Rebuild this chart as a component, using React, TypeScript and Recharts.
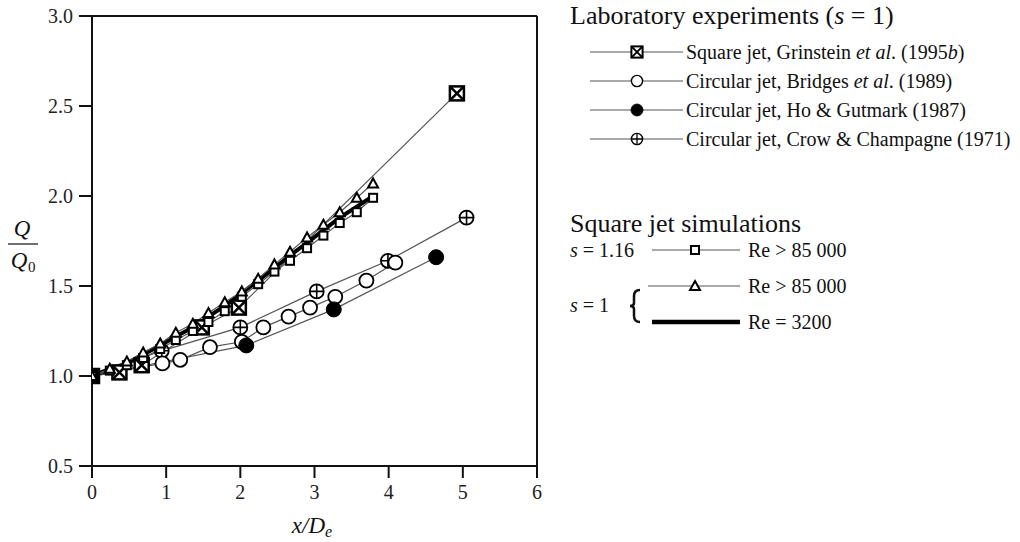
import React from "react";
import { LineChart, Line, XAxis, YAxis, ReferenceLine, Label } from "recharts";

// x/De positions and Q/Q0 values
const grinsteinX = [0, 0.37, 0.67, 1.48, 1.98, 4.92];
const grinsteinQ = [1.0, 1.02, 1.06, 1.27, 1.38, 2.57];
const bridgesX = [0, 0.95, 1.19, 1.59, 2.02, 2.31, 2.65, 2.94, 3.28, 3.7, 4.09];
const bridgesQ = [1.0, 1.07, 1.09, 1.16, 1.19, 1.27, 1.33, 1.38, 1.44, 1.53, 1.63];
const hoX = [0, 2.08, 3.26, 4.64];
const hoQ = [1.0, 1.17, 1.37, 1.66];
const crowX = [0, 0.94, 2.0, 3.03, 3.99, 5.05];
const crowQ = [1.0, 1.14, 1.27, 1.47, 1.64, 1.88];

const simX = [0, 0.24, 0.47, 0.69, 0.92, 1.13, 1.36, 1.57, 1.79, 2.02, 2.24, 2.46, 2.67, 2.9, 3.12, 3.34, 3.57, 3.79];
const sim116Q = [1.0, 1.03, 1.06, 1.1, 1.15, 1.2, 1.25, 1.3, 1.36, 1.44, 1.51, 1.58, 1.64, 1.71, 1.78, 1.85, 1.91, 1.99];
const sim1Q = [1.0, 1.04, 1.08, 1.13, 1.18, 1.24, 1.29, 1.35, 1.41, 1.47, 1.54, 1.62, 1.69, 1.77, 1.84, 1.91, 1.99, 2.07];
const sim3200Q = [1.0, 1.04, 1.07, 1.12, 1.17, 1.22, 1.27, 1.33, 1.39, 1.46, 1.53, 1.6, 1.67, 1.74, 1.81, 1.88, 1.94, 2.0];

const xTicks = [0, 1, 2, 3, 4, 5, 6];
const yTicks = [0.5, 1.0, 1.5, 2.0, 2.5, 3.0];

const zip = (xs: number[], qs: number[]) => xs.map((x, i) => ({ x, q: qs[i] }));

const FONT = '"Liberation Serif", "Times New Roman", Times, "DejaVu Serif", serif';
const THIN = "#555";
const serif = { fontFamily: FONT };

type MarkKind = "sqx" | "open" | "filled" | "plus" | "sq" | "tri";

function Mark({ kind, cx, cy }: { kind: MarkKind; cx: number; cy: number }) {
  if (cx == null || cy == null) return null;
  switch (kind) {
    case "sqx": {
      const h = 7;
      return (
        <g>
          <rect x={cx - h} y={cy - h} width={2 * h} height={2 * h} fill="#fff" stroke="#000" strokeWidth={2.5} />
          <path d={`M${cx - h} ${cy - h}L${cx + h} ${cy + h}M${cx + h} ${cy - h}L${cx - h} ${cy + h}`} stroke="#000" strokeWidth={2.5} />
        </g>
      );
    }
    case "open":
      return <circle cx={cx} cy={cy} r={7} fill="#fff" stroke="#000" strokeWidth={1.8} />;
    case "filled":
      return <circle cx={cx} cy={cy} r={7.5} fill="#000" stroke="#000" />;
    case "plus":
      return (
        <g>
          <circle cx={cx} cy={cy} r={7} fill="#fff" stroke="#000" strokeWidth={1.8} />
          <path d={`M${cx - 7} ${cy}H${cx + 7}M${cx} ${cy - 7}V${cy + 7}`} stroke="#000" strokeWidth={1.6} />
        </g>
      );
    case "sq":
      return <rect x={cx - 4} y={cy - 4} width={8} height={8} fill="#fff" stroke="#000" strokeWidth={2} />;
    case "tri":
      return <path d={`M${cx} ${cy - 5}L${cx + 5} ${cy + 4}L${cx - 5} ${cy + 4}Z`} fill="#fff" stroke="#000" strokeWidth={2} />;
  }
}

const dotOf = (kind: MarkKind) => (p: any) => <Mark key={`${kind}-${p.index}`} kind={kind} cx={p.cx} cy={p.cy} />;

function YTitle() {
  return (
    <g style={serif} fontStyle="italic" fontSize={23} fill="#111">
      <text x={22} y={236} textAnchor="middle" style={serif}>Q</text>
      <line x1={8} x2={38} y1={244} y2={244} stroke="#111" strokeWidth={1.2} />
      <text x={19} y={268} textAnchor="middle" style={serif}>Q</text>
      <text x={28} y={272} fontStyle="normal" fontSize={15} style={serif}>0</text>
    </g>
  );
}

function XTitle() {
  return (
    <text x={312} y={533} textAnchor="middle" style={serif} fontStyle="italic" fontSize={23} fill="#111">
      x/D<tspan fontSize={16} dy={4}>e</tspan>
    </text>
  );
}

function SerifTick(props: any) {
  const { x, y, payload, textAnchor, verticalAnchor, fmt } = props;
  const dy = verticalAnchor === "start" ? 14 : 7;
  return (
    <text x={x} y={y} dy={dy} textAnchor={textAnchor} fontSize={20} fill="#222" style={serif}>
      {fmt ? fmt(payload.value) : payload.value}
    </text>
  );
}

const labItems: { kind: MarkKind; parts: [string, boolean][] }[] = [
  { kind: "sqx", parts: [["Square jet, Grinstein ", false], ["et al", true], [". (1995", false], ["b", true], [")", false]] },
  { kind: "open", parts: [["Circular jet, Bridges ", false], ["et al", true], [". (1989)", false]] },
  { kind: "filled", parts: [["Circular jet, Ho & Gutmark (1987)", false]] },
  { kind: "plus", parts: [["Circular jet, Crow & Champagne (1971)", false]] },
];

function LegendBlock() {
  const rows = [52, 81, 110, 139];
  return (
    <svg width={1020} height={542} style={{ position: "absolute", left: 0, top: 0, pointerEvents: "none", ...serif }}>
      <g fill="#111" style={serif}>
        <text x={570} y={24} fontSize={26} style={serif}>
          Laboratory experiments (<tspan fontStyle="italic">s</tspan> = 1)
        </text>
        {labItems.map((it, i) => (
          <g key={i}>
            <line x1={590} x2={683} y1={rows[i]} y2={rows[i]} stroke={THIN} strokeWidth={1.2} />
            <g transform={`translate(${637},${rows[i]}) scale(0.8) translate(${-637},${-rows[i]})`}>
              <Mark kind={it.kind} cx={637} cy={rows[i]} />
            </g>
            <text x={686} y={rows[i] + 7} fontSize={20} style={serif}>
              {it.parts.map(([t, ital], j) => (
                <tspan key={j} fontStyle={ital ? "italic" : "normal"}>{t}</tspan>
              ))}
            </text>
          </g>
        ))}
        <text x={570} y={232} fontSize={26} style={serif}>Square jet simulations</text>
        <text x={570} y={257} fontSize={20} style={serif}>
          <tspan fontStyle="italic">s</tspan> = 1.16
        </text>
        <line x1={652} x2={740} y1={250} y2={250} stroke={THIN} strokeWidth={1.2} />
        <Mark kind="sq" cx={695} cy={250} />
        <text x={748} y={257} fontSize={20} style={serif}>Re &gt; 85 000</text>
        <line x1={648} x2={740} y1={286} y2={286} stroke={THIN} strokeWidth={1.2} />
        <Mark kind="tri" cx={695} cy={286} />
        <text x={748} y={293} fontSize={20} style={serif}>Re &gt; 85 000</text>
        <text x={570} y={312} fontSize={20} style={serif}>
          <tspan fontStyle="italic">s</tspan> = 1
        </text>
        <path d="M640 290 Q634 290 634 296 V303 Q634 306 630 306 Q634 306 634 309 V316 Q634 322 640 322" fill="none" stroke="#111" strokeWidth={2.5} />
        <line x1={652} x2={740} y1={322} y2={322} stroke="#000" strokeWidth={4.5} />
        <text x={748} y={329} fontSize={20} style={serif}>Re = 3200</text>
      </g>
    </svg>
  );
}

export default function App() {
  return (
    <div style={{ position: "absolute", left: 0, top: 0, width: 1020, height: 542, background: "#fff", ...serif }}>
      <LineChart width={1020} height={542} margin={{ top: 16, right: 483, bottom: 36, left: 32 }}>
        <XAxis
          dataKey="x"
          type="number"
          domain={[0, 6]}
          ticks={xTicks}
          tick={<SerifTick />}
          tickSize={12}
          tickMargin={7}
          height={40}
          stroke="#111"
          strokeWidth={2}
          tickLine={{ stroke: "#111", strokeWidth: 2 }}
          allowDataOverflow
        >
          <Label content={<XTitle />} />
        </XAxis>
        <YAxis
          type="number"
          domain={[0.5, 3]}
          ticks={yTicks}
          tick={<SerifTick fmt={(v: number) => v.toFixed(1)} />}
          tickSize={13}
          tickMargin={6}
          width={60}
          stroke="#111"
          strokeWidth={2}
          tickLine={{ stroke: "#111", strokeWidth: 2 }}
          allowDataOverflow
        >
          <Label content={<YTitle />} />
        </YAxis>
        <ReferenceLine y={3} stroke="#111" strokeWidth={2} />
        <ReferenceLine x={6} stroke="#111" strokeWidth={2} />

        <Line data={zip(grinsteinX, grinsteinQ)} dataKey="q" name="Square jet, Grinstein et al. (1995b)" stroke={THIN} strokeWidth={1.2} dot={dotOf("sqx")} isAnimationActive={false} />
        <Line data={zip(crowX, crowQ)} dataKey="q" name="Circular jet, Crow & Champagne (1971)" stroke={THIN} strokeWidth={1.2} dot={dotOf("plus")} isAnimationActive={false} />
        <Line data={zip(bridgesX, bridgesQ)} dataKey="q" name="Circular jet, Bridges et al. (1989)" stroke={THIN} strokeWidth={1.2} dot={dotOf("open")} isAnimationActive={false} />
        <Line data={zip(hoX, hoQ)} dataKey="q" name="Circular jet, Ho & Gutmark (1987)" stroke={THIN} strokeWidth={1.2} dot={dotOf("filled")} isAnimationActive={false} />
        <Line data={zip(simX, sim3200Q)} dataKey="q" name="s = 1, Re = 3200" stroke="#000" strokeWidth={4} dot={false} isAnimationActive={false} />
        <Line data={zip(simX, sim116Q)} dataKey="q" name="s = 1.16, Re > 85 000" stroke={THIN} strokeWidth={1.2} dot={dotOf("sq")} isAnimationActive={false} />
        <Line data={zip(simX, sim1Q)} dataKey="q" name="s = 1, Re > 85 000" stroke={THIN} strokeWidth={1.2} dot={dotOf("tri")} isAnimationActive={false} />
      </LineChart>
      <LegendBlock />
    </div>
  );
}
